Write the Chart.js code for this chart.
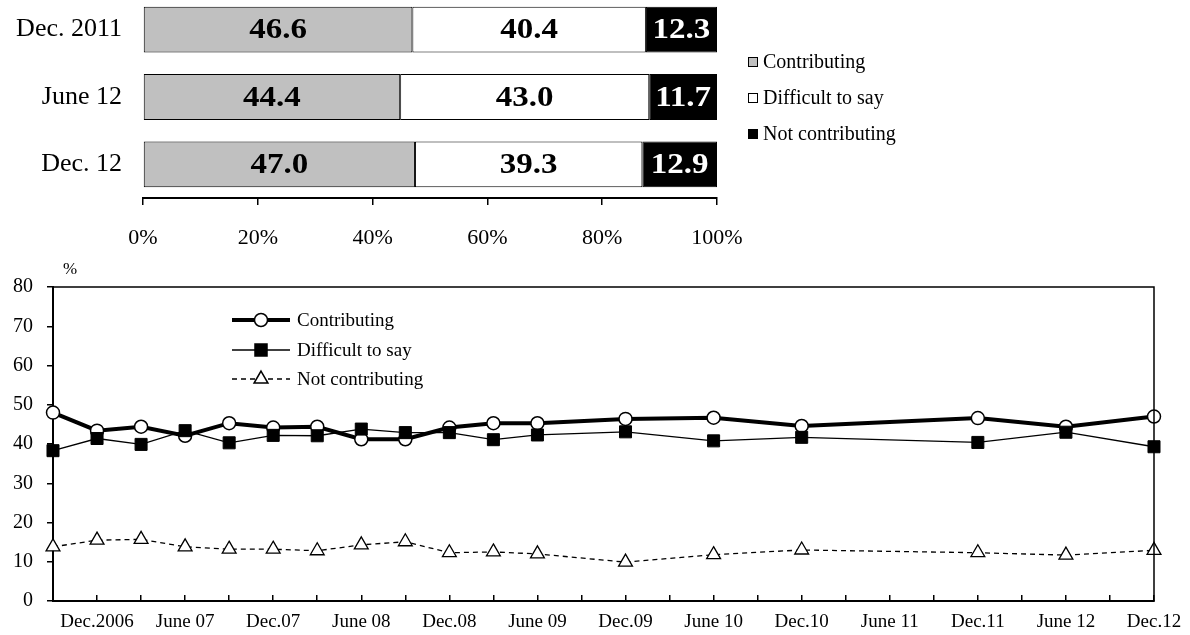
<!DOCTYPE html>
<html><head><meta charset="utf-8">
<script src="https://cdn.jsdelivr.net/npm/chart.js@4.4.0/dist/chart.umd.min.js"></script>
<style>
html,body{margin:0;padding:0;background:#fff;width:1190px;height:635px;overflow:hidden;}
#topChart{position:absolute;left:0;top:-4px;}
#bottomChart{position:absolute;left:0;top:255px;}
</style></head><body>
<canvas id="topChart" width="1000" height="256"></canvas>
<canvas id="bottomChart" width="1190" height="380"></canvas>
<script>
// ---- data: top 100% stacked bars ----
const barCategories = ['Dec. 2011', 'June 12', 'Dec. 12'];
const barSeriesNames = ['Contributing', 'Difficult to say', 'Not contributing'];
const barContributing = [46.6, 44.4, 47.0];
const barDifficult = [40.4, 43.0, 39.3];
const barNotContributing = [12.3, 11.7, 12.9];

// ---- data: bottom line chart (quarterly categories) ----
const periodLabels = ['', 'Dec.2006', '', 'June 07', '', 'Dec.07', '', 'June 08', '', 'Dec.08', '', 'June 09', '', 'Dec.09', '', 'June 10', '', 'Dec.10', '', 'June 11', '', 'Dec.11', '', 'June 12', '', 'Dec.12'];
const lineContributing = [48.0, 43.4, 44.4, 42.1, 45.3, 44.2, 44.4, 41.2, 41.2, 44.2, 45.3, 45.3, null, 46.4, null, 46.7, null, 44.6, null, null, null, 46.6, null, 44.4, null, 47.0];
const lineDifficult = [38.3, 41.4, 39.9, 43.4, 40.3, 42.2, 42.1, 43.8, 42.9, 42.9, 41.1, 42.3, null, 43.1, null, 40.8, null, 41.7, null, null, null, 40.4, null, 43.0, null, 39.3];
const lineNotContributing = [13.8, 15.5, 15.7, 13.8, 13.2, 13.2, 12.8, 14.3, 15.1, 12.3, 12.5, 12.0, null, 9.9, null, 11.8, null, 13.0, null, null, null, 12.3, null, 11.7, null, 12.9];

const FONT = "'Liberation Serif', 'Times New Roman', serif";
const rawBars = [barContributing, barDifficult, barNotContributing];
const totals = barCategories.map((_, i) => rawBars.reduce((s, a) => s + a[i], 0));
const share = arr => arr.map((v, i) => v / totals[i] * 100);

const barLabelPlugin = {
  id: 'barLabels',
  afterDatasetsDraw(chart) {
    const ctx = chart.ctx;
    chart.data.datasets.forEach((ds, di) => {
      const meta = chart.getDatasetMeta(di);
      meta.data.forEach((el, i) => {
        ctx.save();
        ctx.translate((el.x + el.base) / 2, el.y + 1);
        ctx.scale(1.1, 1);
        ctx.font = "bold 30px " + FONT;
        ctx.textAlign = 'center';
        ctx.textBaseline = 'middle';
        ctx.fillStyle = ds.labelColor;
        ctx.fillText(ds.raw[i].toFixed(1), 0, 0);
        ctx.restore();
      });
    });
  }
};

const boxLegendPlugin = {
  id: 'boxLegend',
  afterDraw(chart) {
    const ctx = chart.ctx;
    const o = chart.options.plugins.boxLegend;
    ctx.save();
    ctx.font = "20px " + FONT;
    ctx.textBaseline = 'middle';
    ctx.textAlign = 'left';
    chart.data.datasets.forEach((ds, i) => {
      const y = o.y0 + i * o.step;
      ctx.fillStyle = ds.backgroundColor;
      ctx.fillRect(o.x, y - 5, 10, 10);
      ctx.strokeStyle = '#000';
      ctx.lineWidth = 1;
      ctx.strokeRect(o.x + 0.5, y - 4.5, 9, 9);
      ctx.fillStyle = '#000';
      ctx.fillText(ds.label, o.x + 15, y + 1);
    });
    ctx.restore();
  }
};

new Chart(document.getElementById('topChart'), {
  type: 'bar',
  data: {
    labels: barCategories,
    datasets: [
      { label: barSeriesNames[0], data: share(barContributing), raw: barContributing, backgroundColor: '#c0c0c0', labelColor: '#000' },
      { label: barSeriesNames[1], data: share(barDifficult), raw: barDifficult, backgroundColor: '#ffffff', labelColor: '#000' },
      { label: barSeriesNames[2], data: share(barNotContributing), raw: barNotContributing, backgroundColor: '#000000', labelColor: '#fff' }
    ].map(d => Object.assign(d, { borderColor: '#000', borderWidth: 1, borderSkipped: false, barPercentage: 0.68, categoryPercentage: 1 }))
  },
  options: {
    indexAxis: 'y',
    responsive: false,
    animation: false,
    layout: { padding: { left: 0, right: 283, top: 0, bottom: 0 } },
    plugins: { legend: { display: false }, tooltip: { enabled: false }, boxLegend: { x: 748, y0: 66, step: 36 } },
    scales: {
      x: {
        stacked: true, min: 0, max: 100,
        grid: { drawOnChartArea: false, tickLength: 7, color: '#000', lineWidth: 1.5 },
        border: { display: true, color: '#000', width: 2 },
        ticks: { stepSize: 20, color: '#000', font: { family: FONT, size: 22 }, padding: 20, callback: v => v + '%', maxRotation: 0 },
        afterFit: s => { s.height = 54; s.paddingLeft = 0; s.paddingRight = 0; }
      },
      y: {
        stacked: true,
        grid: { display: false, drawTicks: false },
        border: { display: false },
        ticks: { color: '#000', font: { family: FONT, size: 26 }, padding: 21 },
        afterFit: s => { s.width = 143; s.paddingTop = 0; s.paddingBottom = 0; }
      }
    }
  },
  plugins: [barLabelPlugin, boxLegendPlugin]
});

// ---- bottom line chart ----
function drawMarker(ctx, style, x, y, r, fill) {
  ctx.beginPath();
  if (style === 'circle') {
    ctx.arc(x, y, r, 0, Math.PI * 2);
  } else if (style === 'rect') {
    const s = Math.SQRT1_2 * r;
    ctx.rect(x - s, y - s, 2 * s, 2 * s);
  } else if (style === 'triangle') {
    for (let k = 0; k < 3; k++) {
      const a = k * 2 * Math.PI / 3;
      const px = x + Math.sin(a) * r, py = y - Math.cos(a) * r;
      if (k === 0) ctx.moveTo(px, py); else ctx.lineTo(px, py);
    }
    ctx.closePath();
  }
  ctx.fillStyle = fill;
  ctx.fill();
  ctx.lineWidth = 1.5;
  ctx.strokeStyle = '#000';
  ctx.stroke();
}

const lineLegendPlugin = {
  id: 'lineLegend',
  afterDraw(chart) {
    const ctx = chart.ctx;
    const o = chart.options.plugins.lineLegend;
    ctx.save();
    chart.data.datasets.forEach((ds, i) => {
      const y = o.y[i];
      ctx.beginPath();
      ctx.setLineDash(ds.borderDash || []);
      ctx.lineWidth = ds.borderWidth;
      ctx.strokeStyle = '#000';
      ctx.moveTo(o.x1, y); ctx.lineTo(o.x2, y);
      ctx.stroke();
      ctx.setLineDash([]);
      drawMarker(ctx, ds.pointStyle, (o.x1 + o.x2) / 2, y, ds.pointRadius, ds.pointBackgroundColor);
      ctx.fillStyle = '#000';
      ctx.font = "19px " + FONT;
      ctx.textAlign = 'left';
      ctx.textBaseline = 'middle';
      ctx.fillText(ds.label, o.x2 + 7, y + 1);
    });
    ctx.restore();
  }
};

const framePlugin = {
  id: 'frame',
  afterDraw(chart) {
    const a = chart.chartArea, ctx = chart.ctx;
    ctx.save();
    ctx.strokeStyle = '#000';
    ctx.lineWidth = 1.5;
    ctx.beginPath();
    ctx.moveTo(a.left, a.top); ctx.lineTo(a.right, a.top); ctx.lineTo(a.right, a.bottom);
    ctx.stroke();
    ctx.fillStyle = '#000';
    ctx.font = "17px " + FONT;
    ctx.textAlign = 'center';
    ctx.textBaseline = 'middle';
    ctx.fillText('%', 70, 15);
    ctx.restore();
  }
};

new Chart(document.getElementById('bottomChart'), {
  type: 'line',
  data: {
    labels: periodLabels,
    datasets: [
      { label: 'Contributing', data: lineContributing, borderColor: '#000', borderWidth: 4, pointStyle: 'circle', pointRadius: 6.5, pointBackgroundColor: '#fff', pointBorderColor: '#000', pointBorderWidth: 1.5, order: 3 },
      { label: 'Difficult to say', data: lineDifficult, borderColor: '#000', borderWidth: 1.3, pointStyle: 'rect', pointRadius: 8.5, pointBackgroundColor: '#000', pointBorderColor: '#000', pointBorderWidth: 1, order: 1 },
      { label: 'Not contributing', data: lineNotContributing, borderColor: '#000', borderWidth: 1.3, borderDash: [5, 4], pointStyle: 'triangle', pointRadius: 8, pointBackgroundColor: '#fff', pointBorderColor: '#000', pointBorderWidth: 1.3, order: 2 }
    ].map(d => Object.assign(d, { spanGaps: true, tension: 0, fill: false, pointHoverRadius: d.pointRadius }))
  },
  options: {
    responsive: false,
    animation: false,
    layout: { padding: { left: 0, right: 36, top: 32, bottom: 0 } },
    plugins: {
      legend: { display: false }, tooltip: { enabled: false },
      lineLegend: { x1: 232, x2: 290, y: [65, 95, 124] }
    },
    scales: {
      x: {
        offset: false,
        grid: { drawOnChartArea: false, tickLength: -6, color: '#000', lineWidth: 1.5 },
        border: { display: true, color: '#000', width: 2 },
        ticks: { autoSkip: false, maxRotation: 0, color: '#000', font: { family: FONT, size: 19 }, padding: 16 },
        afterFit: s => { s.height = 34; s.paddingLeft = 0; s.paddingRight = 0; }
      },
      y: {
        min: 0, max: 80,
        grid: { drawOnChartArea: false, tickLength: 6, color: '#000', lineWidth: 1.5 },
        border: { display: true, color: '#000', width: 2 },
        ticks: { stepSize: 10, color: '#000', font: { family: FONT, size: 20 }, padding: 14 },
        afterFit: s => { s.width = 53; }
      }
    }
  },
  plugins: [lineLegendPlugin, framePlugin]
});
</script>
</body></html>
